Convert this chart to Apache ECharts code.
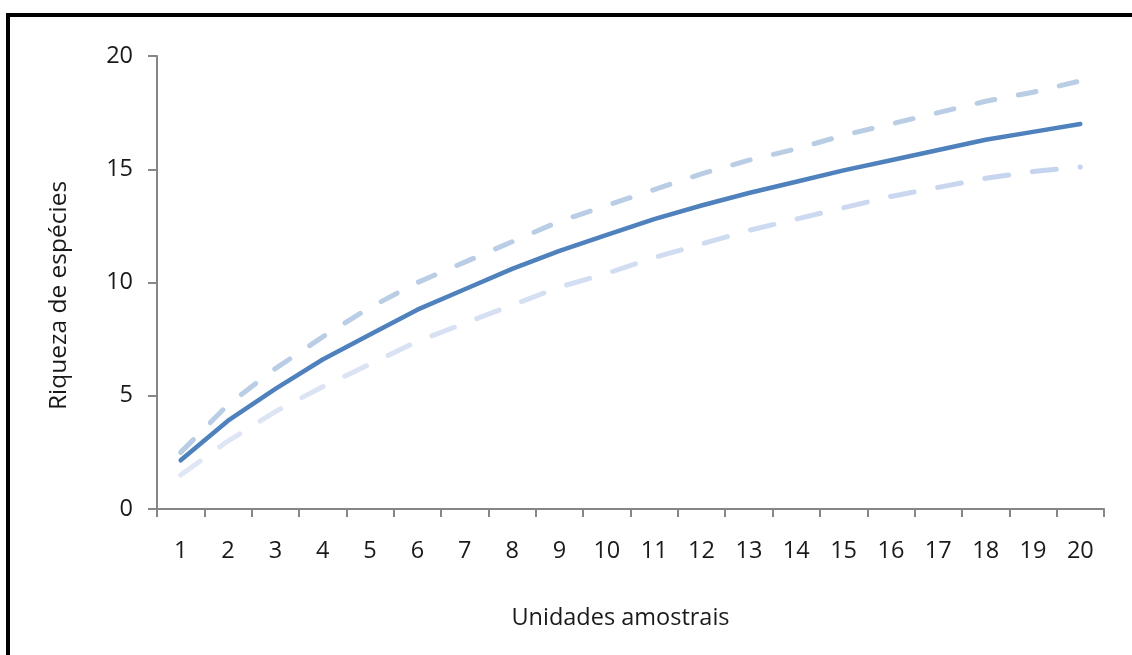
<!DOCTYPE html>
<html>
<head>
<meta charset="utf-8">
<script src="https://cdn.jsdelivr.net/npm/echarts@6/dist/echarts.min.js"></script>
<style>
html,body{margin:0;padding:0;background:#fff;}
#chart{width:1132px;height:655px;}
</style>
</head>
<body>
<div id="chart"></div>
<script>
const categories = ['1','2','3','4','5','6','7','8','9','10','11','12','13','14','15','16','17','18','19','20'];
const meanRichness = [2.15, 3.9, 5.3, 6.6, 7.7, 8.8, 9.7, 10.6, 11.4, 12.1, 12.8, 13.4, 13.95, 14.45, 14.95, 15.4, 15.85, 16.3, 16.65, 17.0];
const upperBound = [2.5, 4.6, 6.2, 7.6, 8.9, 10.0, 10.9, 11.8, 12.7, 13.4, 14.1, 14.8, 15.4, 15.9, 16.5, 17.0, 17.5, 18.0, 18.4, 18.9];
const lowerBound = [1.5, 3.0, 4.3, 5.4, 6.4, 7.4, 8.2, 9.0, 9.8, 10.4, 11.1, 11.7, 12.3, 12.8, 13.3, 13.8, 14.2, 14.6, 14.9, 15.1];
const yTicks = {min: 0, max: 20, interval: 5};
const xTitle = 'Unidades amostrais';
const yTitle = 'Riqueza de espécies';

const chart = echarts.init(document.getElementById('chart'), null, {renderer: 'canvas'});
const font = '"Open Sans", "Noto Sans", sans-serif';
chart.setOption({
  animation: false,
  backgroundColor: '#ffffff',
  grid: {left: 157, right: 28, top: 56, bottom: 146},
  graphic: [
    {type: 'polyline', shape: {points: [[8, 660], [8, 15], [1140, 15]]},
     style: {stroke: '#000', lineWidth: 4, fill: null}, z: 100}
  ],
  xAxis: {
    type: 'category', data: categories, boundaryGap: true,
    name: xTitle, nameLocation: 'middle', nameGap: 97,
    nameTextStyle: {fontFamily: font, fontSize: 23.5, color: '#1a1a1a', padding: [0, 20, 0, 0]},
    axisLine: {lineStyle: {color: '#868686', width: 2}},
    axisTick: {show: true, interval: 0, length: 8, lineStyle: {color: '#868686', width: 2}},
    axisLabel: {interval: 0, margin: 30, fontFamily: font, fontSize: 23.5, color: '#1a1a1a'},
    splitLine: {show: false}
  },
  yAxis: {
    type: 'value', min: yTicks.min, max: yTicks.max, interval: yTicks.interval,
    name: yTitle, nameLocation: 'middle', nameGap: 85,
    nameTextStyle: {fontFamily: font, fontSize: 24.5, color: '#1a1a1a', padding: [0, 26, 0, 0]},
    axisLine: {show: true, lineStyle: {color: '#868686', width: 2}},
    axisTick: {show: true, length: 9, lineStyle: {color: '#868686', width: 2}},
    axisLabel: {margin: 24, fontFamily: font, fontSize: 23.5, color: '#1a1a1a'},
    splitLine: {show: false}
  },
  series: [
    {
      type: 'line', data: upperBound, symbol: 'none', smooth: false,
      lineStyle: {color: '#b9cde5', width: 5, type: [18, 24], cap: 'round', join: 'round'}, z: 2
    },
    {
      type: 'line', data: lowerBound, symbol: 'none', smooth: false,
      lineStyle: {
        color: new echarts.graphic.LinearGradient(0, 0, 1, 0, [
          {offset: 0, color: '#dfe7f5'}, {offset: 1, color: '#c4d3ee'}
        ]),
        width: 5, type: [24, 24], cap: 'round', join: 'round'
      }, z: 2
    },
    {
      type: 'line', data: meanRichness, symbol: 'none', smooth: false,
      lineStyle: {color: '#4f81bd', width: 4.5, cap: 'round', join: 'round'}, z: 3
    }
  ]
});
</script>
</body>
</html>
